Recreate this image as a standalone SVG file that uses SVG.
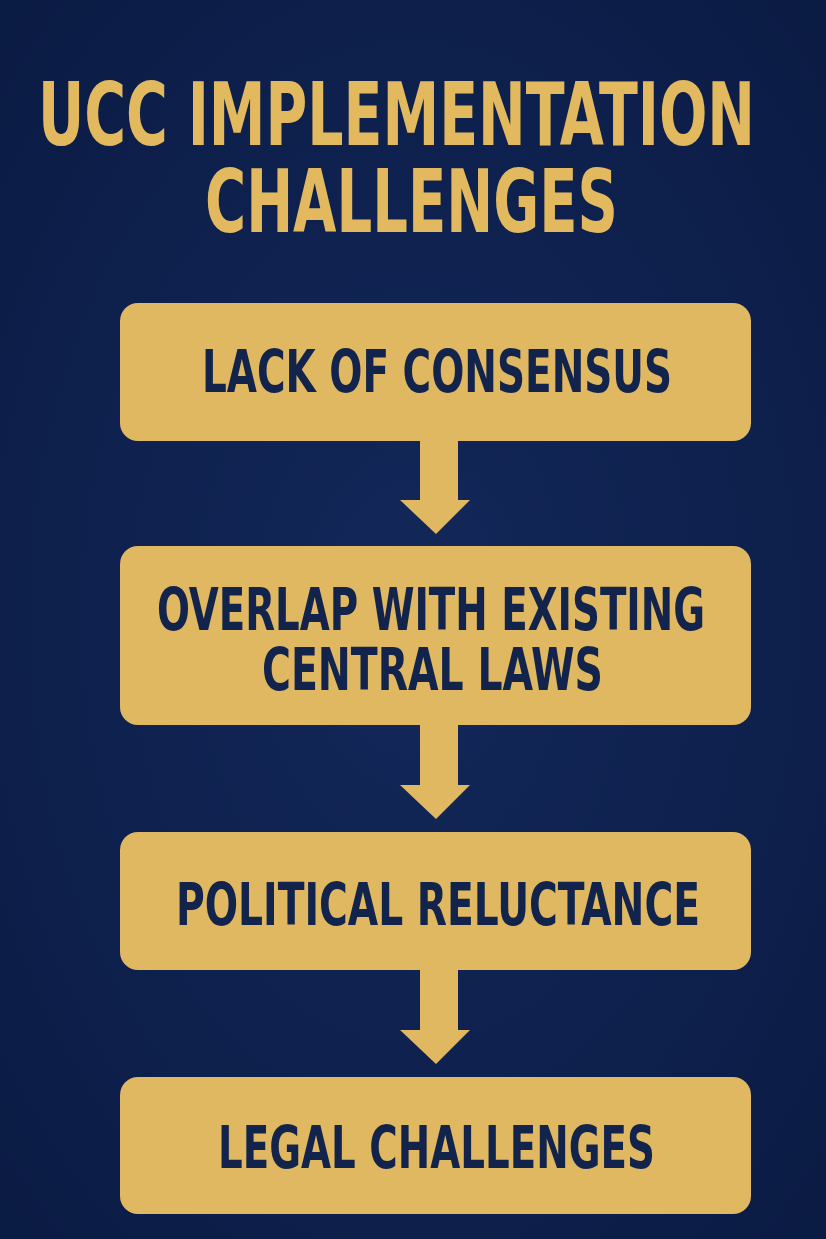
<svg xmlns="http://www.w3.org/2000/svg" width="826" height="1239" viewBox="0 0 826 1239">
<defs>
<radialGradient id="bg" cx="50%" cy="50%" r="75%">
<stop offset="0" stop-color="#13285a"/>
<stop offset="1" stop-color="#0a1a42"/>
</radialGradient>
</defs>
<style>
.t{font-family:"DejaVu Sans Condensed","Liberation Sans",sans-serif;font-weight:bold}
.title{fill:#e2b95f;font-size:88px}
.lbl{fill:#13244c;font-size:58px}
.box{fill:#e0b862}
.arr{fill:#e0b862}
</style>
<rect width="826" height="1239" fill="url(#bg)"/>
<g id="title">
<text class="t title" x="38" y="145" textLength="717" lengthAdjust="spacingAndGlyphs">UCC IMPLEMENTATION</text>
<text class="t title" x="205" y="232" textLength="413" lengthAdjust="spacingAndGlyphs">CHALLENGES</text>
</g>
<g id="connectors">
<polygon class="arr" points="420,441 458,441 458,500 470,500 436,534 400,500 420,500"/>
<polygon class="arr" points="420,725 458,725 458,785 470,785 436,819 400,785 420,785"/>
<polygon class="arr" points="420,970 458,970 458,1030 470,1030 436,1064 400,1030 420,1030"/>
</g>
<g id="n1">
<rect class="box" x="120" y="303" width="631" height="138" rx="18"/>
<text class="t lbl" x="202" y="392" textLength="470" lengthAdjust="spacingAndGlyphs">LACK OF CONSENSUS</text>
</g>
<g id="n2">
<rect class="box" x="120" y="546" width="631" height="179" rx="18"/>
<text class="t lbl" x="157" y="630" textLength="548" lengthAdjust="spacingAndGlyphs">OVERLAP WITH EXISTING</text>
<text class="t lbl" x="262" y="690" textLength="341" lengthAdjust="spacingAndGlyphs">CENTRAL LAWS</text>
</g>
<g id="n3">
<rect class="box" x="120" y="832" width="631" height="138" rx="18"/>
<text class="t lbl" x="176" y="925" textLength="524" lengthAdjust="spacingAndGlyphs">POLITICAL RELUCTANCE</text>
</g>
<g id="n4">
<rect class="box" x="120" y="1077" width="631" height="137" rx="18"/>
<text class="t lbl" x="218" y="1168" textLength="437" lengthAdjust="spacingAndGlyphs">LEGAL CHALLENGES</text>
</g>
</svg>
